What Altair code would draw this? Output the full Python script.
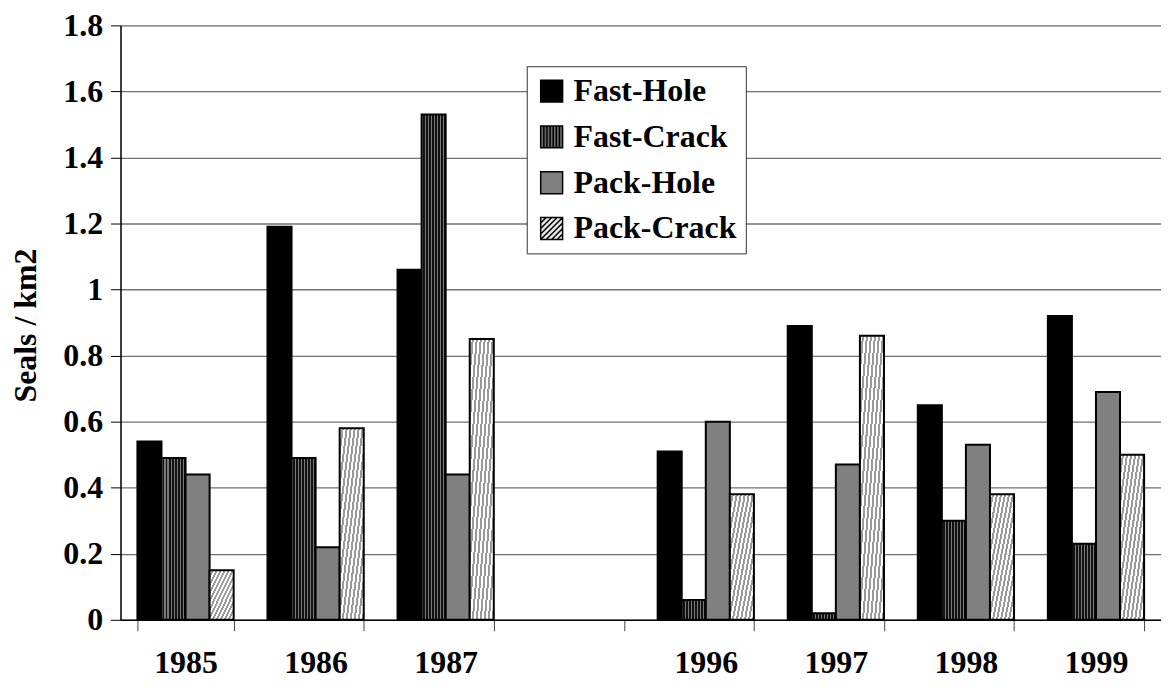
import altair as alt
import pandas as pd

# ---- data ----
years = ["1985", "1986", "1987", "1996", "1997", "1998", "1999"]
x_domain = ["1985", "1986", "1987", " ", "1996", "1997", "1998", "1999"]
series = ["Fast-Hole", "Fast-Crack", "Pack-Hole", "Pack-Crack"]
fast_hole = [0.54, 1.19, 1.06, 0.51, 0.89, 0.65, 0.92]
fast_crack = [0.49, 0.49, 1.53, 0.06, 0.02, 0.30, 0.23]
pack_hole = [0.44, 0.22, 0.44, 0.60, 0.47, 0.53, 0.69]
pack_crack = [0.15, 0.58, 0.85, 0.38, 0.86, 0.38, 0.50]
y_ticks = [0, 0.2, 0.4, 0.6, 0.8, 1.0, 1.2, 1.4, 1.6, 1.8]

rows = []
for name, vals in zip(series, [fast_hole, fast_crack, pack_hole, pack_crack]):
    for yr, v in zip(years, vals):
        rows.append({"year": yr, "series": name, "value": v})
df = pd.DataFrame(rows)

FONT = "Liberation Serif"
FS = 32


def stripes(c1, c2, n, x2=1, y2=0, frac=0.5):
    stops = []
    for i in range(n):
        a = i / n
        m = (i + frac) / n
        b = (i + 1) / n
        stops += [
            {"offset": a, "color": c1},
            {"offset": m, "color": c1},
            {"offset": m, "color": c2},
            {"offset": b, "color": c2},
        ]
    return {"gradient": "linear", "x1": 0, "y1": 0, "x2": x2, "y2": y2, "stops": stops}


grad_fc = stripes("#7a7a7a", "#111111", 8, frac=0.5)
grad_pc = stripes("#ffffff", "#9a9a9a", 12, x2=1, y2=1, frac=0.5)

# legend symbol shapes (unit square [-1, 1])
vlines = " ".join(f"M{x:.2f},-1V1" for x in [-0.71, -0.43, -0.14, 0.14, 0.43, 0.71])
sym_fc = "M-1,-1H1V1H-1Z " + vlines
segs = []
for c in [-1.5, -1.0, -0.5, 0.0, 0.5, 1.0, 1.5]:
    if c <= 0:
        segs.append(f"M-1,{c + 1:.2f}L{c + 1:.2f},-1")
    else:
        segs.append(f"M{c - 1:.2f},1L1,{c - 1:.2f}")
sym_pc = "M-1,-1H1V1H-1Z " + " ".join(segs)
shape_range = ["square", sym_fc, "square", sym_pc]
fill_range = ["#000000", "#6a6a6a", "#808080", "#e6e6e6"]
stroke_range = ["#000000", "#000000", "#000000", "#000000"]
bar_fills = ["#000000", grad_fc, "#808080", grad_pc]

legend = alt.Legend(
    title=None,
    orient="none",
    legendX=408,
    legendY=41,
    padding=9,
    strokeColor="#333333",
    fillColor="white",
    symbolSize=484,
    symbolStrokeWidth=1.5,
    symbolOpacity=1,
    labelFont=FONT,
    labelFontSize=FS,
    labelFontWeight="bold",
    labelColor="black",
    labelOffset=6,
    labelLimit=400,
    rowPadding=14,
)

x_axis = alt.Axis(
    title=None,
    tickBand="extent",
    tickSize=11,
    tickColor="#444444",
    domainColor="black",
    domainWidth=1.5,
    labelFont=FONT,
    labelFontSize=FS,
    labelFontWeight="bold",
    labelColor="black",
    labelPadding=17,
    labelAngle=0,
    grid=False,
)
y_axis = alt.Axis(
    title="Seals / km2",
    values=y_ticks,
    format=".1~f",
    tickSize=10,
    tickColor="black",
    domainColor="black",
    domainWidth=1.5,
    grid=True,
    gridColor="#707070",
    gridWidth=1.3,
    labelFont=FONT,
    labelFontSize=FS,
    labelFontWeight="bold",
    labelColor="black",
    labelPadding=8,
    titleFont=FONT,
    titleFontSize=FS,
    titleFontWeight="bold",
    titleColor="black",
    titleX=-95,
    titleY=301,
    titleAngle=270,
    titleAlign="center",
    titleBaseline="middle",
)

base = alt.Chart(df).encode(
    x=alt.X(
        "year:N",
        scale=alt.Scale(domain=x_domain, paddingInner=0.26, paddingOuter=0.13),
        axis=x_axis,
    ),
    xOffset=alt.XOffset("series:N", scale=alt.Scale(domain=series, paddingInner=0, paddingOuter=0)),
    y=alt.Y("value:Q", scale=alt.Scale(domain=[0, 1.8], nice=False, zero=True), axis=y_axis),
)

layers = []
for name, fill in zip(series, bar_fills):
    layers.append(
        base.transform_filter(alt.datum.series == name).mark_bar(
            fill=fill, stroke="black", strokeWidth=2
        )
    )

pts = base.mark_point(filled=True, opacity=0, strokeWidth=1.5).encode(
    fill=alt.Fill("series:N", scale=alt.Scale(domain=series, range=fill_range), legend=legend),
    shape=alt.Shape("series:N", scale=alt.Scale(domain=series, range=shape_range), legend=legend),
    stroke=alt.Stroke("series:N", scale=alt.Scale(domain=series, range=stroke_range), legend=legend),
)
layers.append(pts)

chart = (
    alt.layer(*layers)
    .properties(
        width=1045,
        height=597,
        autosize=alt.AutoSizeParams(type="none"),
        padding={"left": 113, "top": 16, "right": 0, "bottom": 59},
    )
    .configure_view(stroke=None)
    .configure(background="white")
)

chart.save("out.html", embed_options={"renderer": "svg", "actions": False})
